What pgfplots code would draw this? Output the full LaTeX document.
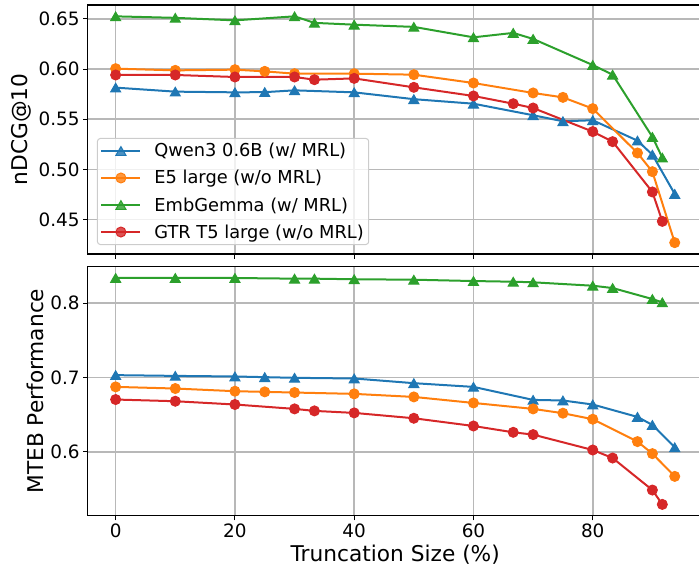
\documentclass[border=0pt]{standalone}
\usepackage{pgfplots}
\pgfplotsset{compat=1.18}
\usepackage{fontspec}
\setmainfont{DejaVu Sans}
\definecolor{tabblue}{HTML}{1F77B4}
\definecolor{taborange}{HTML}{FF7F0E}
\definecolor{tabgreen}{HTML}{2CA02C}
\definecolor{tabred}{HTML}{D62728}
\definecolor{gridgray}{HTML}{B8B8B8}
\definecolor{legedge}{HTML}{CCCCCC}

% top panel (nDCG@10)
\pgfplotstableread{
x y
0 0.5815
10 0.5775
20 0.5768
25 0.5770
30 0.5788
40 0.5768
50 0.5700
60 0.5655
70 0.5540
75 0.5480
80 0.5490
87.5 0.5287
90 0.5147
93.75 0.4756
}\qwenTop
\pgfplotstableread{
x y
0 0.6004
10 0.5987
20 0.5994
25 0.5977
30 0.5954
40 0.5954
50 0.5944
60 0.5861
70 0.5762
75 0.5718
80 0.5606
87.5 0.5164
90 0.4978
93.75 0.4271
}\eTop
\pgfplotstableread{
x y
0 0.6525
10 0.6510
20 0.6485
30 0.6525
33.333 0.6460
40 0.6442
50 0.6420
60 0.6316
66.667 0.6360
70 0.6300
80 0.6040
83.333 0.5944
90 0.5324
91.667 0.5118
}\gemmaTop
\pgfplotstableread{
x y
0 0.5941
10 0.5941
20 0.5921
30 0.5921
33.333 0.5894
40 0.5907
50 0.5818
60 0.5732
66.667 0.5655
70 0.5612
80 0.5377
83.333 0.5277
90 0.4776
91.667 0.4483
}\gtrTop

% bottom panel (MTEB)
\pgfplotstableread{
x y
0 0.7030
10 0.7020
20 0.7012
25 0.7003
30 0.6994
40 0.6985
50 0.6922
60 0.6872
70 0.6697
75 0.6689
80 0.6635
87.5 0.6468
90 0.6360
93.75 0.6059
}\qwenBot
\pgfplotstableread{
x y
0 0.6872
10 0.6850
20 0.6814
25 0.6805
30 0.6796
40 0.6778
50 0.6737
60 0.6656
70 0.6576
75 0.6518
80 0.6437
87.5 0.6136
90 0.5974
93.75 0.5668
}\eBot
\pgfplotstableread{
x y
0 0.8337
10 0.8337
20 0.8337
30 0.8328
33.333 0.8328
40 0.8320
50 0.8314
60 0.8296
66.667 0.8287
70 0.8279
80 0.8233
83.333 0.8202
90 0.8054
91.667 0.8009
}\gemmaBot
\pgfplotstableread{
x y
0 0.6702
10 0.6679
20 0.6635
30 0.6576
33.333 0.6549
40 0.6522
50 0.6450
60 0.6346
66.667 0.6261
70 0.6230
80 0.6023
83.333 0.5915
90 0.5484
91.667 0.5291
}\gtrBot

\pgfplotsset{
  mypanel/.style={
    scale only axis, width=615pt, height=249pt,
    xmin=-4.6875, xmax=98.4375,
    xtick={0,20,40,60,80},
    grid=major,
    major grid style={color=gridgray, line width=1.6pt},
    axis line style={line width=1.05pt, black},
    tick align=outside, tick pos=left,
    major tick length=4.6pt,
    every tick/.style={black, line width=1.05pt},
    ticklabel style={font=\fontsize{18.4}{22}\selectfont},
    label style={font=\fontsize{21.7}{26}\selectfont},
    /pgf/number format/assume math mode=true,
    legend image code/.code={\draw[mark repeat=2,mark phase=2,##1] plot coordinates {(0pt,0pt) (19.5pt,0pt) (39pt,0pt)};},
  },
  sq/.style={color=tabblue, line width=2pt, mark=triangle*, mark size=5.8pt, mark options={solid, line width=1pt, yshift=-1.45pt}},
  se/.style={color=taborange, line width=2pt, mark=*, mark size=5pt, mark options={solid, line width=1pt}},
  sg/.style={color=tabgreen, line width=2pt, mark=triangle*, mark size=5.8pt, mark options={solid, line width=1pt, yshift=-1.45pt}},
  sr/.style={color=tabred, line width=2pt, mark=*, mark size=5pt, mark options={solid, line width=1pt}},
}

\begin{document}
\begin{tikzpicture}
\begin{axis}[mypanel, at={(0pt,0pt)}, anchor=south west,
  ymin=0.4158, ymax=0.6638,
  ytick={0.45,0.50,0.55,0.60,0.65},
  yticklabel style={/pgf/number format/.cd, fixed, fixed zerofill, precision=2},
  xticklabels={},
  ylabel={nDCG@10},
  legend cell align=left,
  legend style={at={(0.015,0.036)}, anchor=south west,
    font=\fontsize{17.8}{21}\selectfont,
    draw=legedge, line width=1pt, rounded corners=3pt,
    fill=white, fill opacity=0.8, text opacity=1, draw opacity=1,
    row sep=8pt, inner sep=3pt,
    /tikz/every odd column/.append style={column sep=11pt}},
]
\addplot[sq] table[x=x,y=y] {\qwenTop};
\addlegendentry{Qwen3 0.6B (w/ MRL)}
\addplot[se] table[x=x,y=y] {\eTop};
\addlegendentry{E5 large (w/o MRL)}
\addplot[sg] table[x=x,y=y] {\gemmaTop};
\addlegendentry{EmbGemma (w/ MRL)}
\addplot[sr] table[x=x,y=y] {\gtrTop};
\addlegendentry{GTR T5 large (w/o MRL)}
\end{axis}

\begin{axis}[mypanel, at={(0pt,-12.7pt)}, anchor=north west,
  ymin=0.5139, ymax=0.8489,
  ytick={0.6,0.7,0.8},
  yticklabel style={/pgf/number format/.cd, fixed, fixed zerofill, precision=1},
  xlabel={Truncation Size (\%)},
  ylabel={MTEB Performance},
]
\addplot[sq] table[x=x,y=y] {\qwenBot};
\addplot[se] table[x=x,y=y] {\eBot};
\addplot[sg] table[x=x,y=y] {\gemmaBot};
\addplot[sr] table[x=x,y=y] {\gtrBot};
\end{axis}
\pgfresetboundingbox
\useasboundingbox (-87.7pt,254pt) rectangle ++(699pt,-570pt);
\end{tikzpicture}
\end{document}
